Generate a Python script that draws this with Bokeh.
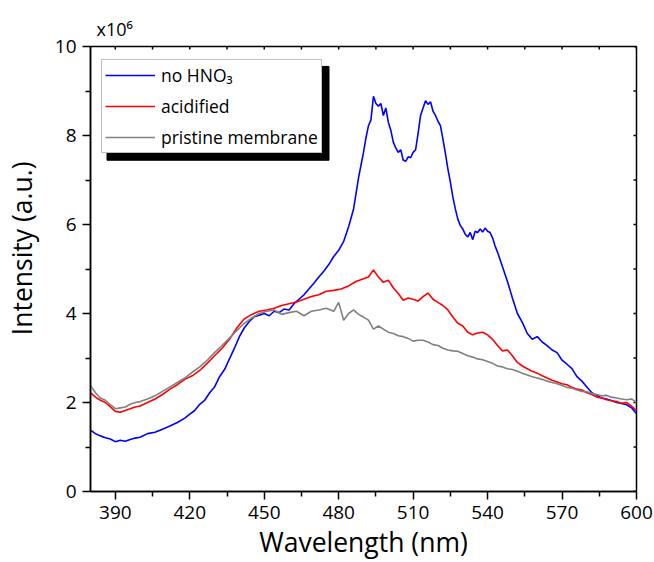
from bokeh.plotting import figure
from bokeh.models import (Range1d, FixedTicker, Legend, LegendItem, Title, BoxAnnotation)
from bokeh.embed import file_html
from bokeh.resources import INLINE

# ---------------- data (intensity in units of 1e6) ----------------
wl_no_hno3 = [380, 382, 384, 386, 388, 390, 392, 394, 396, 398, 400, 403, 406, 409, 412, 415, 418, 420,
              422, 424, 426, 428, 430, 432, 434, 436, 438, 440, 442, 444, 446, 448, 450, 452, 454, 456,
              458, 460, 462, 464, 466, 468, 470, 472, 474, 476, 478, 480, 482, 484, 486, 488, 490, 491,
              492, 493, 494, 495, 496, 497, 498, 499, 500, 501, 502, 503, 504, 505, 506, 507, 508, 509,
              510, 511, 512, 513, 514, 515, 516, 517, 518, 519, 520, 521, 522, 523, 524, 525, 526, 527,
              528, 529, 530, 531, 532, 533, 534, 535, 536, 537, 538, 539, 540, 541, 542, 543, 544, 546,
              548, 550, 552, 554, 556, 558, 560, 562, 564, 566, 568, 570, 572, 574, 576, 578, 580, 582,
              584, 586, 588, 590, 592, 594, 596, 598, 600]
int_no_hno3 = [1.38, 1.30, 1.25, 1.21, 1.18, 1.12, 1.15, 1.13, 1.17, 1.20, 1.22, 1.30, 1.33, 1.40, 1.47,
               1.55, 1.65, 1.74, 1.82, 1.96, 2.05, 2.22, 2.35, 2.58, 2.74, 2.98, 3.22, 3.48, 3.68, 3.82,
               3.93, 3.96, 4.00, 3.95, 4.05, 4.02, 4.10, 4.08, 4.22, 4.32, 4.42, 4.55, 4.68, 4.82, 4.95,
               5.10, 5.28, 5.42, 5.62, 5.95, 6.35, 7.05, 7.62, 7.95, 8.22, 8.35, 8.88, 8.72, 8.66, 8.72,
               8.45, 8.62, 8.30, 8.12, 7.85, 7.72, 7.62, 7.68, 7.45, 7.42, 7.52, 7.50, 7.62, 7.68, 8.05,
               8.45, 8.62, 8.78, 8.70, 8.76, 8.55, 8.45, 8.32, 8.22, 7.92, 7.60, 7.25, 6.95, 6.62, 6.35,
               6.12, 5.98, 5.90, 5.78, 5.72, 5.82, 5.66, 5.85, 5.82, 5.90, 5.83, 5.92, 5.85, 5.82, 5.70,
               5.52, 5.38, 5.05, 4.72, 4.35, 4.00, 3.80, 3.55, 3.42, 3.48, 3.36, 3.28, 3.18, 3.12, 2.95,
               2.86, 2.76, 2.58, 2.48, 2.35, 2.22, 2.16, 2.10, 2.08, 2.04, 2.00, 1.98, 1.95, 1.88, 1.75]

wl_acid = [380, 382, 384, 386, 388, 390, 392, 394, 396, 398, 400, 403, 406, 409, 412, 415, 418, 421, 424,
           427, 430, 433, 436, 439, 442, 445, 448, 451, 454, 457, 460, 463, 466, 469, 472, 475, 478, 481,
           484, 487, 490, 492, 494, 496, 498, 500, 502, 504, 506, 508, 510, 512, 514, 516, 518, 520, 522,
           524, 526, 528, 530, 532, 534, 536, 538, 540, 542, 544, 546, 548, 550, 552, 554, 556, 558, 560,
           562, 564, 566, 568, 570, 572, 574, 576, 578, 580, 582, 584, 586, 588, 590, 592, 594, 596, 598,
           600]
int_acid = [2.22, 2.12, 2.05, 2.00, 1.90, 1.80, 1.78, 1.82, 1.86, 1.90, 1.92, 2.00, 2.08, 2.18, 2.30,
            2.40, 2.52, 2.60, 2.72, 2.88, 3.05, 3.22, 3.42, 3.68, 3.88, 3.98, 4.05, 4.08, 4.12, 4.18,
            4.22, 4.26, 4.32, 4.38, 4.42, 4.50, 4.52, 4.55, 4.62, 4.72, 4.78, 4.82, 4.98, 4.82, 4.70,
            4.75, 4.58, 4.45, 4.30, 4.35, 4.32, 4.28, 4.38, 4.46, 4.32, 4.25, 4.18, 4.08, 3.92, 3.78,
            3.72, 3.58, 3.52, 3.56, 3.58, 3.52, 3.42, 3.28, 3.16, 3.18, 3.05, 2.90, 2.82, 2.76, 2.70,
            2.66, 2.60, 2.55, 2.50, 2.46, 2.42, 2.40, 2.34, 2.30, 2.28, 2.22, 2.18, 2.12, 2.10, 2.06,
            2.04, 2.02, 1.98, 2.00, 1.92, 1.82]

wl_pristine = [380, 382, 384, 386, 388, 390, 392, 394, 396, 398, 400, 403, 406, 409, 412, 415, 418, 421,
               424, 427, 430, 433, 436, 439, 442, 445, 448, 451, 454, 457, 460, 463, 466, 469, 472, 475,
               478, 480, 482, 484, 486, 488, 490, 492, 494, 496, 498, 500, 502, 504, 506, 508, 510, 512,
               514, 516, 518, 520, 522, 524, 526, 528, 530, 532, 534, 536, 538, 540, 542, 544, 546, 548,
               550, 552, 554, 556, 558, 560, 562, 564, 566, 568, 570, 572, 574, 576, 578, 580, 582, 584,
               586, 588, 590, 592, 594, 596, 598, 600]
int_pristine = [2.38, 2.22, 2.10, 2.05, 1.95, 1.86, 1.88, 1.90, 1.96, 2.00, 2.02, 2.08, 2.15, 2.25, 2.35,
                2.45, 2.55, 2.68, 2.80, 2.95, 3.12, 3.28, 3.45, 3.62, 3.78, 3.90, 4.00, 4.05, 4.08, 3.98,
                4.02, 4.05, 3.95, 4.05, 4.08, 4.12, 4.05, 4.25, 3.85, 4.00, 4.08, 3.98, 3.92, 3.85, 3.65,
                3.72, 3.65, 3.58, 3.55, 3.50, 3.48, 3.44, 3.38, 3.40, 3.40, 3.36, 3.30, 3.28, 3.22, 3.18,
                3.16, 3.15, 3.10, 3.05, 3.02, 2.98, 2.96, 2.92, 2.88, 2.82, 2.80, 2.76, 2.74, 2.70, 2.66,
                2.62, 2.58, 2.55, 2.52, 2.48, 2.45, 2.42, 2.38, 2.34, 2.32, 2.28, 2.25, 2.24, 2.20, 2.18,
                2.15, 2.16, 2.12, 2.10, 2.08, 2.06, 2.08, 2.00]

series_names = ["no HNO\u2083", "acidified", "pristine membrane"]
series_colors = ["#0000FF", "#FF0000", "#808080"]

x_major = [390, 420, 450, 480, 510, 540, 570, 600]
x_minor = [405, 435, 465, 495, 525, 555, 585]
y_major = [0, 2, 4, 6, 8, 10]
y_minor = [1, 3, 5, 7, 9]

X_MIN, X_MAX = 380, 600
Y_MIN, Y_MAX = 0, 10

FONT = "Open Sans"
NBSP = "\u00a0"

# ---------------- figure ----------------
p = figure(width=654, height=562, output_backend="svg", toolbar_location=None,
           x_range=Range1d(X_MIN, X_MAX), y_range=Range1d(Y_MIN, Y_MAX),
           min_border_left=89, min_border_right=18, min_border_top=46, min_border_bottom=70)
p.xgrid.visible = False
p.ygrid.visible = False
p.outline_line_color = "black"
p.outline_line_width = 1.5
p.background_fill_color = "white"
p.border_fill_color = "white"

p.xaxis.ticker = FixedTicker(ticks=x_major, minor_ticks=x_minor)
p.yaxis.ticker = FixedTicker(ticks=y_major, minor_ticks=y_minor)
p.xaxis.axis_label = "Wavelength (nm)"
p.yaxis.axis_label = NBSP * 6 + "Intensity (a.u.)"

for ax in list(p.xaxis) + list(p.yaxis):
    ax.axis_line_color = "black"
    ax.axis_line_width = 1.5
    ax.major_tick_in = 0
    ax.major_tick_out = 8
    ax.minor_tick_in = 0
    ax.minor_tick_out = 5
    ax.major_tick_line_width = 1.5
    ax.minor_tick_line_width = 1.5
    ax.major_label_text_font = FONT
    ax.major_label_text_font_size = "19px"
    ax.major_label_text_color = "black"
    ax.axis_label_text_font = FONT
    ax.axis_label_text_font_size = "26.5px"
    ax.axis_label_text_font_style = "normal"
    ax.axis_label_text_color = "black"

p.xaxis.major_label_standoff = 6
p.xaxis.axis_label_standoff = 2
p.yaxis.major_label_standoff = 6
p.yaxis.axis_label_standoff = 12

# inward ticks on the top and right frame edges (tick length is styling only)
TOP_TICK = 3 / 44.6      # ~3 px in y data units
RIGHT_TICK = 3 / 2.48    # ~3 px in x data units
top_ticks = x_major + x_minor
right_ticks = y_major + y_minor
p.segment(x0=top_ticks, y0=[Y_MAX] * len(top_ticks), x1=top_ticks,
          y1=[Y_MAX - TOP_TICK] * len(top_ticks), line_color="black", line_width=1.5)
p.segment(x0=[X_MAX] * len(right_ticks), y0=right_ticks, x1=[X_MAX - RIGHT_TICK] * len(right_ticks),
          y1=right_ticks, line_color="black", line_width=1.5)

# ---------------- lines ----------------
r1 = p.line(wl_no_hno3, int_no_hno3, line_color=series_colors[0], line_width=1.6)
r2 = p.line(wl_acid, int_acid, line_color=series_colors[1], line_width=1.6)
r3 = p.line(wl_pristine, int_pristine, line_color=series_colors[2], line_width=1.6)

# ---------------- legend with drop shadow ----------------
shadow = BoxAnnotation(left=386.65, right=476.1, top=9.552, bottom=7.444,
                       fill_color="black", fill_alpha=1.0, line_color="black", line_alpha=1.0,
                       level="underlay")
p.add_layout(shadow)

legend = Legend(items=[LegendItem(label=series_names[0], renderers=[r1]),
                       LegendItem(label=series_names[1], renderers=[r2]),
                       LegendItem(label=series_names[2], renderers=[r3])],
                location=(11, 338), orientation="vertical",
                label_text_font=FONT, label_text_font_size="17.5px", label_text_color="black",
                glyph_width=50, glyph_height=20, label_height=20, spacing=7, padding=3,
                label_standoff=6, margin=0,
                border_line_color="#808080", border_line_width=1.5,
                background_fill_color="white", background_fill_alpha=1.0)
p.add_layout(legend, "center")

# ---------------- x10^6 multiplier ----------------
mult = Title(text="x10\u2076", align="left", offset=6, standoff=12,
             text_font=FONT, text_font_size="18px", text_font_style="normal", text_color="black")
p.add_layout(mult, "above")

open("out.html", "w").write(file_html(p, INLINE))
